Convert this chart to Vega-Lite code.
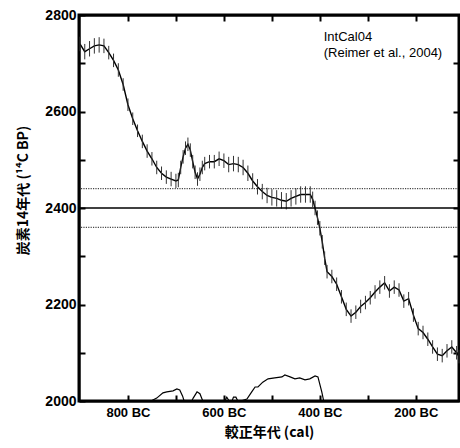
{
  "$schema": "https://vega.github.io/schema/vega-lite/v6.json",
  "width": 380,
  "height": 386,
  "autosize": {"type": "none"},
  "padding": {"left": 79, "top": 15, "right": 1, "bottom": 47},
  "view": {"stroke": "black", "strokeWidth": 3},
  "config": {
    "font": "Liberation Sans",
    "axis": {
      "domainColor": "black",
      "domainWidth": 2,
      "tickColor": "black",
      "tickWidth": 2,
      "tickSize": -6,
      "grid": false,
      "labelColor": "black",
      "titleColor": "black",
      "labelFont": "Liberation Sans",
      "labelFontWeight": "bold",
      "labelFlush": false,
      "labelOverlap": false
    }
  },
  "resolve": {"axis": {"x": "independent", "y": "independent"}},
  "datasets": {
    "curve": [
      {"year": 900, "c14": 2740, "lo": 2725, "hi": 2755},
      {"year": 890, "c14": 2724, "lo": 2708, "hi": 2740},
      {"year": 880, "c14": 2730, "lo": 2714, "hi": 2746},
      {"year": 870, "c14": 2736, "lo": 2720, "hi": 2752},
      {"year": 860, "c14": 2738, "lo": 2722, "hi": 2754},
      {"year": 850, "c14": 2736, "lo": 2721, "hi": 2751},
      {"year": 840, "c14": 2722, "lo": 2708, "hi": 2736},
      {"year": 830, "c14": 2706, "lo": 2692, "hi": 2720},
      {"year": 820, "c14": 2686, "lo": 2672, "hi": 2700},
      {"year": 810, "c14": 2656, "lo": 2643, "hi": 2669},
      {"year": 800, "c14": 2614, "lo": 2601, "hi": 2627},
      {"year": 790, "c14": 2585, "lo": 2572, "hi": 2598},
      {"year": 780, "c14": 2560, "lo": 2547, "hi": 2573},
      {"year": 770, "c14": 2538, "lo": 2524, "hi": 2552},
      {"year": 760, "c14": 2518, "lo": 2504, "hi": 2532},
      {"year": 750, "c14": 2502, "lo": 2488, "hi": 2516},
      {"year": 740, "c14": 2484, "lo": 2470, "hi": 2498},
      {"year": 730, "c14": 2472, "lo": 2458, "hi": 2486},
      {"year": 720, "c14": 2464, "lo": 2450, "hi": 2478},
      {"year": 710, "c14": 2460, "lo": 2445, "hi": 2475},
      {"year": 700, "c14": 2456, "lo": 2441, "hi": 2471},
      {"year": 695, "c14": 2458, "lo": 2443, "hi": 2473},
      {"year": 690, "c14": 2484, "lo": 2470, "hi": 2498},
      {"year": 685, "c14": 2506, "lo": 2492, "hi": 2520},
      {"year": 680, "c14": 2524, "lo": 2510, "hi": 2538},
      {"year": 675, "c14": 2532, "lo": 2518, "hi": 2546},
      {"year": 670, "c14": 2520, "lo": 2506, "hi": 2534},
      {"year": 665, "c14": 2496, "lo": 2482, "hi": 2510},
      {"year": 660, "c14": 2474, "lo": 2460, "hi": 2488},
      {"year": 655, "c14": 2460, "lo": 2446, "hi": 2474},
      {"year": 650, "c14": 2470, "lo": 2456, "hi": 2484},
      {"year": 645, "c14": 2484, "lo": 2470, "hi": 2498},
      {"year": 640, "c14": 2492, "lo": 2478, "hi": 2506},
      {"year": 630, "c14": 2496, "lo": 2482, "hi": 2510},
      {"year": 620, "c14": 2496, "lo": 2482, "hi": 2510},
      {"year": 610, "c14": 2502, "lo": 2487, "hi": 2517},
      {"year": 600, "c14": 2498, "lo": 2483, "hi": 2513},
      {"year": 590, "c14": 2490, "lo": 2474, "hi": 2506},
      {"year": 580, "c14": 2492, "lo": 2476, "hi": 2508},
      {"year": 570, "c14": 2490, "lo": 2474, "hi": 2506},
      {"year": 560, "c14": 2484, "lo": 2468, "hi": 2500},
      {"year": 550, "c14": 2472, "lo": 2456, "hi": 2488},
      {"year": 540, "c14": 2456, "lo": 2440, "hi": 2472},
      {"year": 530, "c14": 2444, "lo": 2428, "hi": 2460},
      {"year": 520, "c14": 2434, "lo": 2418, "hi": 2450},
      {"year": 510, "c14": 2426, "lo": 2410, "hi": 2442},
      {"year": 500, "c14": 2422, "lo": 2405, "hi": 2439},
      {"year": 490, "c14": 2420, "lo": 2403, "hi": 2437},
      {"year": 480, "c14": 2416, "lo": 2399, "hi": 2433},
      {"year": 470, "c14": 2414, "lo": 2397, "hi": 2431},
      {"year": 460, "c14": 2420, "lo": 2403, "hi": 2437},
      {"year": 450, "c14": 2424, "lo": 2407, "hi": 2441},
      {"year": 440, "c14": 2428, "lo": 2411, "hi": 2445},
      {"year": 430, "c14": 2428, "lo": 2411, "hi": 2445},
      {"year": 420, "c14": 2428, "lo": 2411, "hi": 2445},
      {"year": 415, "c14": 2418, "lo": 2402, "hi": 2434},
      {"year": 410, "c14": 2400, "lo": 2385, "hi": 2415},
      {"year": 405, "c14": 2380, "lo": 2365, "hi": 2395},
      {"year": 400, "c14": 2358, "lo": 2343, "hi": 2373},
      {"year": 395, "c14": 2330, "lo": 2316, "hi": 2344},
      {"year": 390, "c14": 2296, "lo": 2282, "hi": 2310},
      {"year": 385, "c14": 2268, "lo": 2254, "hi": 2282},
      {"year": 375, "c14": 2258, "lo": 2244, "hi": 2272},
      {"year": 365, "c14": 2242, "lo": 2228, "hi": 2256},
      {"year": 355, "c14": 2216, "lo": 2202, "hi": 2230},
      {"year": 345, "c14": 2190, "lo": 2176, "hi": 2204},
      {"year": 335, "c14": 2176, "lo": 2162, "hi": 2190},
      {"year": 325, "c14": 2184, "lo": 2170, "hi": 2198},
      {"year": 315, "c14": 2196, "lo": 2182, "hi": 2210},
      {"year": 305, "c14": 2204, "lo": 2190, "hi": 2218},
      {"year": 295, "c14": 2214, "lo": 2200, "hi": 2228},
      {"year": 285, "c14": 2226, "lo": 2212, "hi": 2240},
      {"year": 275, "c14": 2236, "lo": 2222, "hi": 2250},
      {"year": 265, "c14": 2245, "lo": 2231, "hi": 2259},
      {"year": 255, "c14": 2228, "lo": 2214, "hi": 2242},
      {"year": 245, "c14": 2236, "lo": 2222, "hi": 2250},
      {"year": 235, "c14": 2230, "lo": 2216, "hi": 2244},
      {"year": 225, "c14": 2207, "lo": 2193, "hi": 2221},
      {"year": 215, "c14": 2212, "lo": 2198, "hi": 2226},
      {"year": 205, "c14": 2178, "lo": 2164, "hi": 2192},
      {"year": 195, "c14": 2150, "lo": 2136, "hi": 2164},
      {"year": 185, "c14": 2142, "lo": 2128, "hi": 2156},
      {"year": 175, "c14": 2128, "lo": 2114, "hi": 2142},
      {"year": 165, "c14": 2112, "lo": 2098, "hi": 2126},
      {"year": 155, "c14": 2097, "lo": 2083, "hi": 2111},
      {"year": 145, "c14": 2094, "lo": 2080, "hi": 2108},
      {"year": 135, "c14": 2104, "lo": 2090, "hi": 2118},
      {"year": 125, "c14": 2112, "lo": 2098, "hi": 2126},
      {"year": 115, "c14": 2100, "lo": 2086, "hi": 2114},
      {"year": 110, "c14": 2092, "lo": 2078, "hi": 2106}
    ],
    "prob": [
      {"year": 752, "p": 2000},
      {"year": 740, "p": 2006},
      {"year": 727, "p": 2017},
      {"year": 719, "p": 2019},
      {"year": 706, "p": 2021},
      {"year": 698, "p": 2025},
      {"year": 692, "p": 2023},
      {"year": 686, "p": 2010},
      {"year": 683, "p": 2000},
      {"year": 667, "p": 2000},
      {"year": 664, "p": 2006},
      {"year": 656, "p": 2019},
      {"year": 650, "p": 2015},
      {"year": 644, "p": 2000},
      {"year": 598, "p": 2000},
      {"year": 594, "p": 2008},
      {"year": 589, "p": 2000},
      {"year": 583, "p": 2000},
      {"year": 580, "p": 2008},
      {"year": 575, "p": 2008},
      {"year": 571, "p": 2000},
      {"year": 565, "p": 2000},
      {"year": 552, "p": 2004},
      {"year": 542, "p": 2019},
      {"year": 535, "p": 2029},
      {"year": 529, "p": 2029},
      {"year": 519, "p": 2039},
      {"year": 508, "p": 2046},
      {"year": 494, "p": 2048},
      {"year": 479, "p": 2050},
      {"year": 473, "p": 2054},
      {"year": 462, "p": 2050},
      {"year": 452, "p": 2046},
      {"year": 442, "p": 2048},
      {"year": 431, "p": 2044},
      {"year": 421, "p": 2046},
      {"year": 410, "p": 2052},
      {"year": 404, "p": 2050},
      {"year": 396, "p": 2019},
      {"year": 392, "p": 2000}
    ],
    "dotted": [
      {"c14": 2440},
      {"c14": 2360}
    ],
    "solid": [
      {"c14": 2400}
    ],
    "labels": [
      {"year": 392, "c14": 2755, "label": "IntCal04"},
      {"year": 392, "c14": 2721, "label": "(Reimer et al., 2004)"}
    ]
  },
  "layer": [
    {
      "data": {"name": "curve"},
      "mark": {"type": "line", "color": "black", "strokeWidth": 1.4},
      "encoding": {
        "x": {
          "field": "year", "type": "quantitative",
          "scale": {"domain": [110, 902], "reverse": true, "nice": false, "zero": false},
          "axis": {
            "orient": "bottom",
            "values": [800, 700, 600, 500, 400, 300, 200],
            "labelExpr": "datum.value % 200 === 0 ? datum.value + ' BC' : ''",
            "labelFontSize": 13,
            "labelPadding": 11,
            "title": "較正年代 (cal)",
            "titleFont": "Noto Sans CJK JP",
            "titleFontSize": 14,
            "titleFontWeight": "bold",
            "titlePadding": 6
          }
        },
        "y": {
          "field": "c14", "type": "quantitative",
          "scale": {"domain": [2000, 2800], "nice": false, "zero": false},
          "axis": {
            "orient": "left",
            "values": [2000, 2100, 2200, 2300, 2400, 2500, 2600, 2700, 2800],
            "labelExpr": "datum.value % 200 === 0 ? datum.value : ''",
            "labelFontSize": 14,
            "labelPadding": 9,
            "title": "炭素14年代 (¹⁴C BP)",
            "titleFont": "Noto Sans CJK JP",
            "titleFontSize": 14,
            "titleFontWeight": "bold",
            "titlePadding": 14,
            "titleY": 175
          }
        }
      }
    },
    {
      "data": {"name": "curve"},
      "mark": {"type": "rule", "color": "#333333", "strokeWidth": 1},
      "encoding": {
        "x": {"field": "year", "type": "quantitative", "axis": null},
        "y": {"field": "lo", "type": "quantitative", "axis": null},
        "y2": {"field": "hi"}
      }
    },
    {
      "data": {"name": "dotted"},
      "mark": {"type": "rule", "color": "black", "strokeWidth": 0.9, "strokeDash": [1.2, 1.2]},
      "encoding": {
        "y": {"field": "c14", "type": "quantitative", "axis": null}
      }
    },
    {
      "data": {"name": "solid"},
      "mark": {"type": "rule", "color": "black", "strokeWidth": 1.3},
      "encoding": {
        "y": {"field": "c14", "type": "quantitative", "axis": null}
      }
    },
    {
      "data": {"name": "prob"},
      "mark": {"type": "line", "color": "black", "strokeWidth": 1.2},
      "encoding": {
        "x": {"field": "year", "type": "quantitative", "axis": null},
        "y": {"field": "p", "type": "quantitative", "axis": null}
      }
    },
    {
      "data": {"name": "labels"},
      "mark": {"type": "text", "align": "left", "baseline": "middle", "fontSize": 13, "font": "Liberation Sans", "color": "black"},
      "encoding": {
        "x": {
          "field": "year", "type": "quantitative",
          "axis": {"orient": "top", "values": [800, 700, 600, 500, 400, 300, 200], "labels": false, "title": null}
        },
        "y": {
          "field": "c14", "type": "quantitative",
          "axis": {"orient": "right", "values": [2100, 2200, 2300, 2400, 2500, 2600, 2700], "labels": false, "title": null}
        },
        "text": {"field": "label"}
      }
    }
  ]
}
